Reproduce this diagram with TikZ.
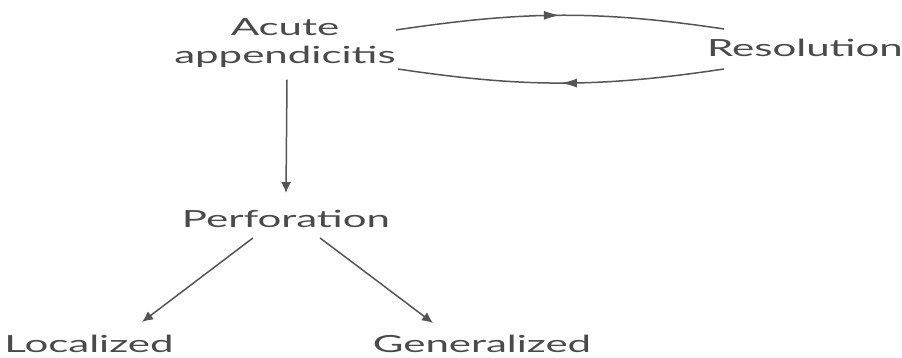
\documentclass[tikz,border=0pt]{standalone}
\usepackage{fontspec}
\setmainfont[FakeStretch=1.78]{Lato}
\usetikzlibrary{arrows.meta,decorations.markings}
\definecolor{inkgray}{HTML}{555555}
\definecolor{textgray}{HTML}{4A4A4A}
\tikzset{
  arr/.style={-{Latex[length=11pt,width=10pt]},line width=1.5pt,draw=inkgray},
  midarr/.style={line width=1.5pt,draw=inkgray,postaction={decorate},
    decoration={markings,mark=at position 0.5 with {\arrow[inkgray]{Latex[length=16pt,width=9pt]}}}},
  lbl/.style={font=\fontsize{23.6}{28}\selectfont,text=textgray,inner sep=3pt,align=center},
}
\begin{document}
\begin{tikzpicture}[x=1pt,y=1pt]
\useasboundingbox (0,0) rectangle (902,358);

\node[lbl] (acute) at (285,315) {Acute\\appendicitis};
\node[lbl] (res) at (805,310) {Resolution};
\node[lbl] (perf) at (286,139) {Perforation};
\node[lbl] (loc) at (89,14) {Localized};
\node[lbl] (gen) at (482,14) {Generalized};

% loop between acute and resolution
\draw[midarr] ([xshift=-3pt,yshift=13pt]acute.east) to[out=8.5,in=171.5] ([xshift=20pt,yshift=19pt]res.west);
\draw[midarr] ([xshift=20pt,yshift=-21pt]res.west) to[out=188.5,in=-8.5] ([xshift=-1pt,yshift=-26pt]acute.east);

\draw[arr] ([xshift=2pt,yshift=-9pt]acute.south) -- ([yshift=14pt]perf.north);
\draw[arr] ([xshift=-33pt,yshift=-7pt]perf.south) -- ([xshift=53pt,yshift=10pt]loc.north);
\draw[arr] ([xshift=34pt,yshift=-7pt]perf.south) -- ([xshift=-49pt,yshift=9pt]gen.north);
\end{tikzpicture}
\end{document}
